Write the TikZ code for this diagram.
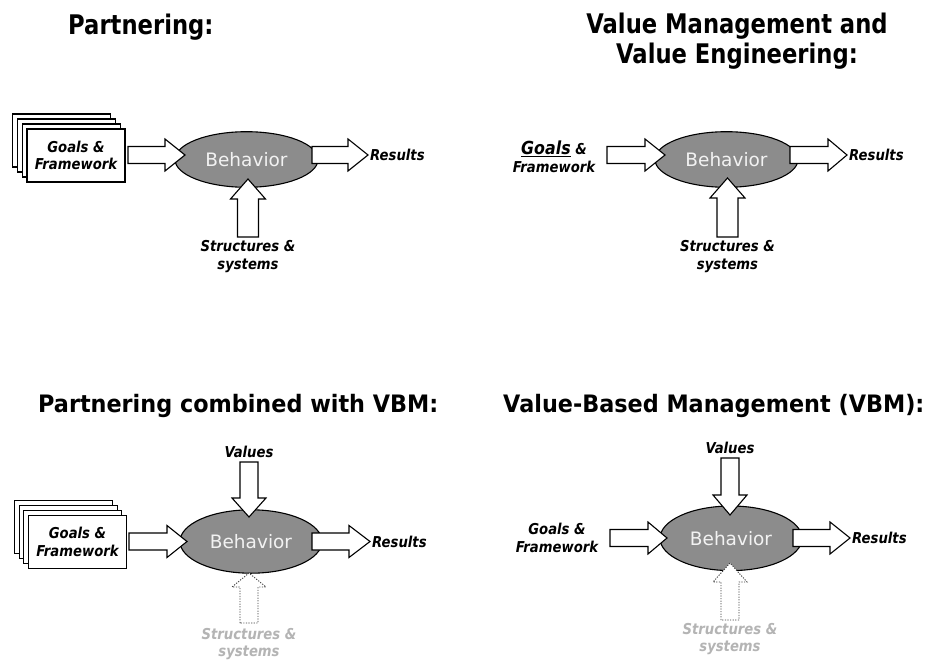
\documentclass[tikz,border=0pt]{standalone}
\usepackage{fontspec}
\usetikzlibrary{shapes.geometric}
\newfontfamily\ttlfont[FakeStretch=0.84]{DejaVu Sans}
\newfontfamily\ttlbfont[FakeStretch=0.93]{DejaVu Sans}
\newfontfamily\lblfont[FakeStretch=0.88]{DejaVu Sans}
\newfontfamily\behfont{DejaVu Sans}
\definecolor{ellgray}{HTML}{8C8C8C}
\definecolor{behtext}{HTML}{F2F2F2}
\definecolor{fadetext}{HTML}{B4B4B4}
\newcommand\arrR[5]{\draw[#5] (#1,#4-8.5) -- (#2,#4-8.5) -- (#2,#4-16) -- (#3,#4) -- (#2,#4+16) -- (#2,#4+8.5) -- (#1,#4+8.5) -- cycle;}
\newcommand\arrV[7]{\draw[#7] (#1-#5,#2) -- (#1-#5,#3) -- (#1-#6,#3) -- (#1,#4) -- (#1+#6,#3) -- (#1+#5,#3) -- (#1+#5,#2) -- cycle;}
\tikzset{
  ttl/.style={font=\ttlfont\bfseries\fontsize{27}{30}\selectfont, inner sep=0},
  ttlb/.style={font=\ttlbfont\bfseries\fontsize{24}{29}\selectfont, inner sep=0},
  lbl/.style={font=\lblfont\bfseries\itshape\fontsize{15}{17.5}\selectfont, align=center, inner sep=0},
  fade/.style={lbl, text=fadetext},
  beh/.style={ellipse, draw=black, line width=1.1pt, fill=ellgray, inner sep=0,
     text=behtext, font=\behfont\fontsize{18.5}{20}\selectfont},
  blk/.style={draw=black, fill=white, line width=1.1pt, line join=miter},
  dotblk/.style={draw=black!75, fill=white, line width=0.9pt, dash pattern=on 1.2pt off 1.4pt},
  pagebox/.style={draw=black, fill=white, line width=1.1pt, minimum width=98, minimum height=53, inner sep=0},
}
\begin{document}
\begin{tikzpicture}[x=1pt,y=-1pt]
\useasboundingbox[fill=white] (0,0) rectangle (925,660);

% ---------------- titles
\node[ttl, anchor=base west] (t1) at (68,35) {Partnering:};
\node[ttl, align=center, anchor=base] (t2) at (737,64) {Value Management and\\Value Engineering:};
\node[ttlb, anchor=base west] (t3) at (38,412) {Partnering combined with VBM:};
\node[ttlb, anchor=base west] (t4) at (503,412) {Value-Based Management (VBM):};

% ---------------- panel 1: Partnering
\node[pagebox] (p1c) at (61.9,140.5) {};
\node[pagebox] (p1b) at (66.6,145.5) {};
\node[pagebox] (p1a) at (71.3,150.5) {};
\node[pagebox, lbl] (g1) at (76,155.5) {Goals \&\\Framework};
\node[beh, minimum width=143, minimum height=55.6] (e1) at (246.5,159.5) {Behavior};
\arrR{128}{165}{185}{155}{blk}
\arrR{312}{348}{368}{155}{blk}
\arrV{248}{237}{199}{179}{10.5}{17.5}{blk}
\node[lbl, anchor=west] (r1) at (370,155) {Results};
\node[lbl] (s1) at (248,256.5) {Structures \&\\systems};

% ---------------- panel 2: Value Management / Value Engineering
\node[lbl] (g2) at (554,157) {\underline{\fontsize{18}{20}\selectfont Goals} \&\\Framework};
\node[beh, minimum width=143, minimum height=55.6] (e2) at (726.5,159.5) {Behavior};
\arrR{607}{645}{665}{155}{blk}
\arrR{790}{828}{847}{155}{blk}
\arrV{727.5}{237}{198}{178}{10.5}{17.5}{blk}
\node[lbl, anchor=west] (r2) at (849,155) {Results};
\node[lbl] (s2) at (727.5,256.5) {Structures \&\\systems};

% ---------------- panel 3: Partnering combined with VBM
\node[pagebox] (p3c) at (63.4,527) {};
\node[pagebox] (p3b) at (68.1,532) {};
\node[pagebox] (p3a) at (72.8,537) {};
\node[pagebox, lbl] (g3) at (77.5,542) {Goals \&\\Framework};
\node[beh, minimum width=142, minimum height=63.4] (e3) at (251,541.5) {Behavior};
\arrR{129}{167}{187}{541.5}{blk}
\arrR{312}{349}{370}{541.5}{blk}
\arrV{249}{462}{498}{517}{9}{17}{blk}
\arrV{249}{623}{587}{573}{9}{17}{dotblk}
\node[lbl, anchor=west] (r3) at (372,541.5) {Results};
\node[lbl] (v3) at (249,452) {Values};
\node[fade] (s3) at (249,644) {Structures \&\\systems};

% ---------------- panel 4: Value-Based Management
\node[lbl] (g4) at (557,538) {Goals \&\\Framework};
\node[beh, minimum width=142, minimum height=64.6] (e4) at (731,538.3) {Behavior};
\arrR{610}{648}{667}{538}{blk}
\arrR{793}{830}{850}{538}{blk}
\arrV{730}{458}{495}{515}{9}{17}{blk}
\arrV{730}{620}{582}{563}{9}{17}{dotblk}
\node[lbl, anchor=west] (r4) at (852,538) {Results};
\node[lbl] (v4) at (730,448) {Values};
\node[fade] (s4) at (730,639) {Structures \&\\systems};
\end{tikzpicture}
\end{document}
